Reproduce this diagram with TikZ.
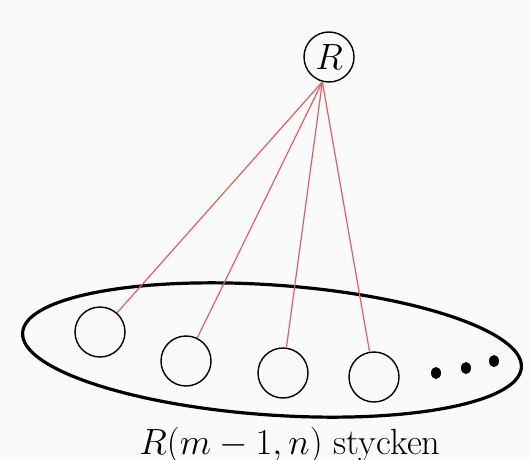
\RequirePackage{fix-cm}
\documentclass[tikz,border=0pt]{standalone}
\usepackage{tikz}
\usetikzlibrary{positioning}

\definecolor{linkred}{RGB}{222,96,96}
\definecolor{paper}{RGB}{250,250,250}

\begin{document}
\begin{tikzpicture}[
    x=1pt, y=-1pt,
    member/.style={
        circle,
        draw,
        line width=1.4pt,
        minimum size=50pt,
        inner sep=0pt
    },
    link/.style={
        linkred,
        line width=1.2pt
    },
    bigfont/.style={
        font=\fontsize{36.5}{44}\selectfont
    }
]

% Canvas
\useasboundingbox[fill=paper] (0, 0) rectangle (530, 460);

% Top node
\node[member, bigfont] (R) at (329, 57) {$R$};

% The set of members
\draw[line width=3.2pt] (272, 350) ellipse[x radius=250, y radius=65, rotate=-4];

\node[member] (c1) at (100, 332) {};
\node[member] (c2) at (186, 361) {};
\node[member] (c3) at (283, 373) {};
\node[member] (c4) at (374, 377) {};

% Dots
\fill (436, 373) ellipse[x radius=5, y radius=6];
\fill (466, 368) ellipse[x radius=5, y radius=6];
\fill (494, 361) ellipse[x radius=5, y radius=6];

% Links from the top node
\draw[link] (R.255) -- (c1);
\draw[link] (R.255) -- (c2);
\draw[link] (R.255) -- (c3);
\draw[link] (R.255) -- (c4);

% Caption
\node[bigfont, anchor=base] (count) at (290, 454) {$R(m-1,n)$ stycken};

\end{tikzpicture}
\end{document}
